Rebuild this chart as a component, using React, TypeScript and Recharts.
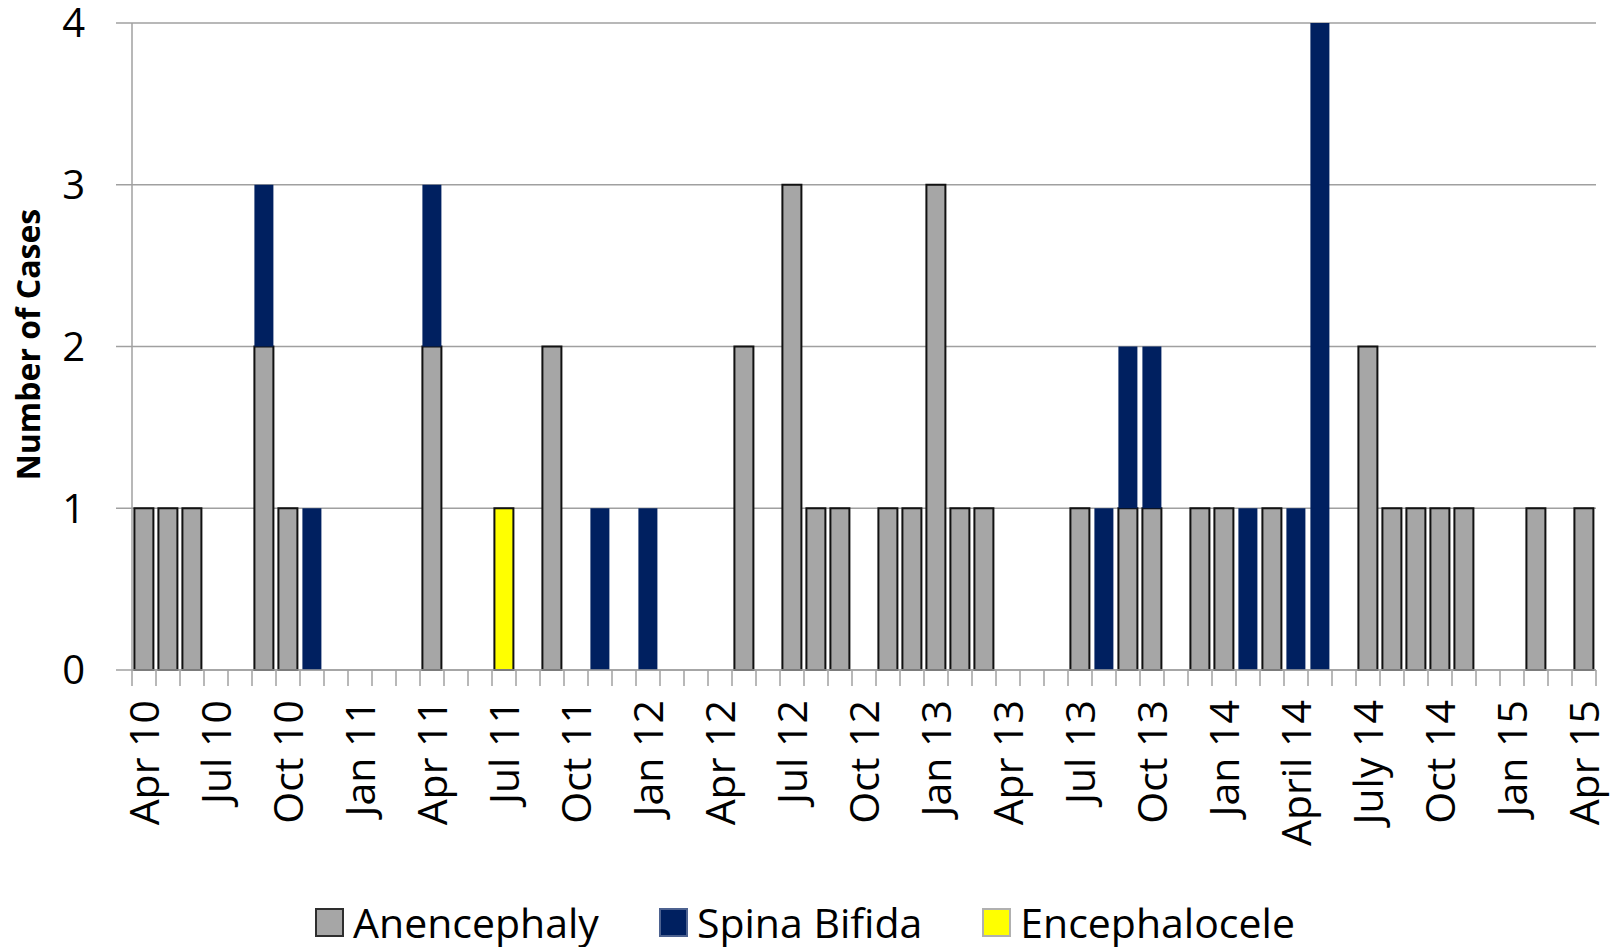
import { BarChart, Bar, XAxis, YAxis, CartesianGrid, Legend } from "recharts";

const months = [
  "Apr 10", "May 10", "Jun 10", "Jul 10", "Aug 10", "Sep 10", "Oct 10", "Nov 10", "Dec 10",
  "Jan 11", "Feb 11", "Mar 11", "Apr 11", "May 11", "Jun 11", "Jul 11", "Aug 11", "Sep 11",
  "Oct 11", "Nov 11", "Dec 11", "Jan 12", "Feb 12", "Mar 12", "Apr 12", "May 12", "Jun 12",
  "Jul 12", "Aug 12", "Sep 12", "Oct 12", "Nov 12", "Dec 12", "Jan 13", "Feb 13", "Mar 13",
  "Apr 13", "May 13", "Jun 13", "Jul 13", "Aug 13", "Sep 13", "Oct 13", "Nov 13", "Dec 13",
  "Jan 14", "Feb 14", "Mar 14", "Apr 14", "May 14", "Jun 14", "Jul 14", "Aug 14", "Sep 14",
  "Oct 14", "Nov 14", "Dec 14", "Jan 15", "Feb 15", "Mar 15", "Apr 15",
];

// shown every third month
const tickLabels = [
  "Apr 10", "Jul 10", "Oct 10", "Jan 11", "Apr 11", "Jul 11", "Oct 11", "Jan 12", "Apr 12",
  "Jul 12", "Oct 12", "Jan 13", "Apr 13", "Jul 13", "Oct 13", "Jan 14", "April 14", "July 14",
  "Oct 14", "Jan 15", "Apr 15",
];

const anencephaly = [
  1, 1, 1, 0, 0, 2, 1, 0, 0, 0,
  0, 0, 2, 0, 0, 0, 0, 2, 0, 0,
  0, 0, 0, 0, 0, 2, 0, 3, 1, 1,
  0, 1, 1, 3, 1, 1, 0, 0, 0, 1,
  0, 1, 1, 0, 1, 1, 0, 1, 0, 0,
  0, 2, 1, 1, 1, 1, 0, 0, 1, 0,
  1,
];

const spinaBifida = [
  0, 0, 0, 0, 0, 1, 0, 1, 0, 0,
  0, 0, 1, 0, 0, 0, 0, 0, 0, 1,
  0, 1, 0, 0, 0, 0, 0, 0, 0, 0,
  0, 0, 0, 0, 0, 0, 0, 0, 0, 0,
  1, 1, 1, 0, 0, 0, 1, 0, 1, 4,
  0, 0, 0, 0, 0, 0, 0, 0, 0, 0,
  0,
];

const encephalocele = [
  0, 0, 0, 0, 0, 0, 0, 0, 0, 0,
  0, 0, 0, 0, 0, 1, 0, 0, 0, 0,
  0, 0, 0, 0, 0, 0, 0, 0, 0, 0,
  0, 0, 0, 0, 0, 0, 0, 0, 0, 0,
  0, 0, 0, 0, 0, 0, 0, 0, 0, 0,
  0, 0, 0, 0, 0, 0, 0, 0, 0, 0,
  0,
];

const yTicks = [0, 1, 2, 3, 4];

const data = months.map((m, i) => ({
  month: m,
  anencephaly: anencephaly[i],
  spinaBifida: spinaBifida[i],
  encephalocele: encephalocele[i],
}));

const FONT = "'Open Sans', sans-serif";
const AXIS_GRAY = "#a0a0a0";
const TICK_SIZE = 16;
const TICK_GAP = 14;

const series = [
  { key: "anencephaly", name: "Anencephaly", fill: "#a6a6a6", stroke: "#111", legendBorder: "#2e2e2e" },
  { key: "spinaBifida", name: "Spina Bifida", fill: "#002060", stroke: "none", legendBorder: "#4d6290" },
  { key: "encephalocele", name: "Encephalocele", fill: "#ffff00", stroke: "#111", legendBorder: "#b0b0b0" },
];

function MonthTick(props: any) {
  const { x, y, index, width } = props;
  const band = (width ?? 1464) / months.length;
  const half = band / 2;
  const axisY = y - TICK_SIZE - TICK_GAP;
  const label = index % 3 === 0 ? tickLabels[index / 3] : null;
  return (
    <g>
      <line x1={x - half} x2={x - half} y1={axisY} y2={axisY + TICK_SIZE} stroke={AXIS_GRAY} strokeWidth={1.5} />
      {index === months.length - 1 && (
        <line x1={x + half} x2={x + half} y1={axisY} y2={axisY + TICK_SIZE} stroke={AXIS_GRAY} strokeWidth={1.5} />
      )}
      {label && (
        <text
          x={x}
          y={y}
          dy="0.36em"
          transform={`rotate(-90, ${x}, ${y})`}
          textAnchor="end"
          fontFamily={FONT}
          fontSize={41}
          fill="#000"
        >
          {label}
        </text>
      )}
    </g>
  );
}

function ValueTick(props: any) {
  const { x, y, payload } = props;
  return (
    <text x={x} y={y} dy="0.36em" textAnchor="end" fontFamily={FONT} fontSize={40} fill="#000">
      {payload.value}
    </text>
  );
}

function YTitle(props: any) {
  const vb = props.viewBox || { x: 0, y: 23, width: 132, height: 647 };
  const cx = vb.x + 28;
  const cy = vb.y + vb.height / 2 - 2;
  return (
    <text
      x={cx}
      y={cy}
      dy="0.36em"
      transform={`rotate(-90, ${cx}, ${cy})`}
      textAnchor="middle"
      fontFamily={FONT}
      fontWeight={700}
      fontSize={32}
      fill="#000"
    >
      Number of Cases
    </text>
  );
}

function LegendBox() {
  return (
    <div
      style={{
        display: "flex",
        justifyContent: "center",
        alignItems: "center",
        height: 50,
        paddingLeft: 14,
        fontFamily: FONT,
      }}
    >
      {series.map((s, i) => (
        <div key={s.key} style={{ display: "flex", alignItems: "center", marginRight: i < series.length - 1 ? 60 : 0 }}>
          <span
            style={{
              display: "inline-block",
              width: 25,
              height: 25,
              background: s.fill,
              border: `2px solid ${s.legendBorder}`,
              marginRight: 9,
            }}
          />
          <span style={{ fontSize: 41, color: "#000", lineHeight: 1 }}>{s.name}</span>
        </div>
      ))}
    </div>
  );
}

export default function App() {
  return (
    <div style={{ position: "absolute", left: 0, top: 0, width: 1616, height: 947, background: "#fff" }}>
      <BarChart
        width={1616}
        height={947}
        data={data}
        margin={{ top: 23, right: 20, bottom: 0, left: 0 }}
        barCategoryGap="10%"
      >
        <CartesianGrid vertical={false} stroke={AXIS_GRAY} strokeWidth={1.5} />
        <XAxis
          dataKey="month"
          interval={0}
          height={227}
          tickLine={false}
          tickSize={TICK_SIZE}
          tickMargin={TICK_GAP}
          axisLine={{ stroke: AXIS_GRAY, strokeWidth: 1.5 }}
          tick={<MonthTick />}
        />
        <YAxis
          width={132}
          domain={[0, 4]}
          ticks={yTicks}
          interval={0}
          tickSize={TICK_SIZE}
          tickMargin={31}
          tickLine={{ stroke: AXIS_GRAY, strokeWidth: 1.5 }}
          axisLine={{ stroke: AXIS_GRAY, strokeWidth: 1.5 }}
          tick={<ValueTick />}
          label={<YTitle />}
        />
        <Legend verticalAlign="bottom" height={50} content={<LegendBox />} />
        {series.map((s) => (
          <Bar
            key={s.key}
            dataKey={s.key}
            name={s.name}
            stackId="cases"
            fill={s.fill}
            stroke={s.stroke}
            strokeWidth={2}
            isAnimationActive={false}
          />
        ))}
      </BarChart>
    </div>
  );
}
